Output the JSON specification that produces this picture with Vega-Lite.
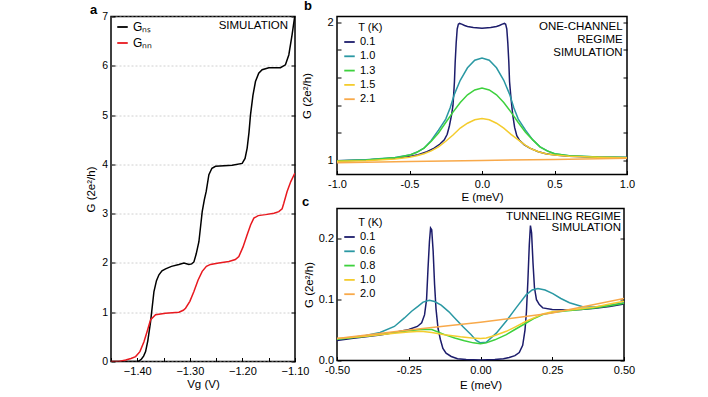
{
  "$schema": "https://vega.github.io/schema/vega-lite/v6.json",
  "background": "white",
  "padding": {"left": 84, "top": -1.5, "right": 5, "bottom": 5},
  "config": {
    "font": "Liberation Sans",
    "view": {"stroke": "black", "strokeWidth": 1.5},
    "axis": {"domain": false, "tickColor": "black", "tickSize": -4, "tickWidth": 1, "labelColor": "black", "titleColor": "black", "labelFontSize": 11, "titleFontSize": 11.5, "titleFontWeight": "normal", "grid": false, "labelOverlap": false, "labelFlush": false},
    "axisX": {"labelPadding": 8, "titlePadding": 1.5},
    "axisY": {"labelPadding": 7.5},
    "legend": {"symbolType": "stroke", "symbolStrokeWidth": 1.8, "symbolSize": 110, "labelFontSize": 11, "titleFontSize": 11, "titleFontWeight": "normal", "labelOffset": 4, "rowPadding": 2.3, "titlePadding": 3, "padding": 0, "labelColor": "black", "titleColor": "black"},
    "title": {"anchor": "start", "frame": "group", "fontSize": 13, "fontWeight": "bold", "color": "black", "baseline": "alphabetic"}
  },
  "datasets": {
    "ga": [
      {"V": -1.45, "G": 0, "s": "G\u2099\u209b"}, {"V": -1.40, "G": 0, "s": "G\u2099\u209b"}, {"V": -1.3968, "G": 0.01, "s": "G\u2099\u209b"}, {"V": -1.392, "G": 0.05, "s": "G\u2099\u209b"}, {"V": -1.388, "G": 0.11, "s": "G\u2099\u209b"}, {"V": -1.3842, "G": 0.2, "s": "G\u2099\u209b"}, {"V": -1.38, "G": 0.42, "s": "G\u2099\u209b"}, {"V": -1.3747, "G": 0.81, "s": "G\u2099\u209b"}, {"V": -1.3683, "G": 1.42, "s": "G\u2099\u209b"}, {"V": -1.3635, "G": 1.64, "s": "G\u2099\u209b"}, {"V": -1.3588, "G": 1.76, "s": "G\u2099\u209b"}, {"V": -1.353, "G": 1.84, "s": "G\u2099\u209b"}, {"V": -1.3462, "G": 1.88, "s": "G\u2099\u209b"}, {"V": -1.335, "G": 1.93, "s": "G\u2099\u209b"}, {"V": -1.3208, "G": 1.97, "s": "G\u2099\u209b"}, {"V": -1.3113, "G": 2.0, "s": "G\u2099\u209b"}, {"V": -1.3018, "G": 1.97, "s": "G\u2099\u209b"}, {"V": -1.2965, "G": 1.98, "s": "G\u2099\u209b"}, {"V": -1.2923, "G": 2.02, "s": "G\u2099\u209b"}, {"V": -1.288, "G": 2.18, "s": "G\u2099\u209b"}, {"V": -1.2828, "G": 2.43, "s": "G\u2099\u209b"}, {"V": -1.2795, "G": 2.75, "s": "G\u2099\u209b"}, {"V": -1.2765, "G": 3.04, "s": "G\u2099\u209b"}, {"V": -1.2725, "G": 3.28, "s": "G\u2099\u209b"}, {"V": -1.2689, "G": 3.45, "s": "G\u2099\u209b"}, {"V": -1.2638, "G": 3.79, "s": "G\u2099\u209b"}, {"V": -1.258, "G": 3.92, "s": "G\u2099\u209b"}, {"V": -1.2512, "G": 3.96, "s": "G\u2099\u209b"}, {"V": -1.235, "G": 3.97, "s": "G\u2099\u209b"}, {"V": -1.2195, "G": 3.98, "s": "G\u2099\u209b"}, {"V": -1.2005, "G": 4.02, "s": "G\u2099\u209b"}, {"V": -1.195, "G": 4.12, "s": "G\u2099\u209b"}, {"V": -1.191, "G": 4.33, "s": "G\u2099\u209b"}, {"V": -1.1875, "G": 4.65, "s": "G\u2099\u209b"}, {"V": -1.1847, "G": 5.0, "s": "G\u2099\u209b"}, {"V": -1.18, "G": 5.4, "s": "G\u2099\u209b"}, {"V": -1.1752, "G": 5.68, "s": "G\u2099\u209b"}, {"V": -1.169, "G": 5.85, "s": "G\u2099\u209b"}, {"V": -1.1625, "G": 5.92, "s": "G\u2099\u209b"}, {"V": -1.1498, "G": 5.96, "s": "G\u2099\u209b"}, {"V": -1.1277, "G": 5.96, "s": "G\u2099\u209b"}, {"V": -1.1182, "G": 6.02, "s": "G\u2099\u209b"}, {"V": -1.1118, "G": 6.22, "s": "G\u2099\u209b"}, {"V": -1.1055, "G": 6.63, "s": "G\u2099\u209b"}, {"V": -1.1011, "G": 6.96, "s": "G\u2099\u209b"}, {"V": -1.10, "G": 7.0, "s": "G\u2099\u209b"},
      {"V": -1.45, "G": 0, "s": "G\u2099\u2099"}, {"V": -1.435, "G": 0, "s": "G\u2099\u2099"}, {"V": -1.4222, "G": 0.03, "s": "G\u2099\u2099"}, {"V": -1.412, "G": 0.06, "s": "G\u2099\u2099"}, {"V": -1.4032, "G": 0.1, "s": "G\u2099\u2099"}, {"V": -1.395, "G": 0.2, "s": "G\u2099\u2099"}, {"V": -1.3873, "G": 0.4, "s": "G\u2099\u2099"}, {"V": -1.381, "G": 0.62, "s": "G\u2099\u2099"}, {"V": -1.3747, "G": 0.85, "s": "G\u2099\u2099"}, {"V": -1.3652, "G": 0.95, "s": "G\u2099\u2099"}, {"V": -1.3462, "G": 0.98, "s": "G\u2099\u2099"}, {"V": -1.3208, "G": 1.0, "s": "G\u2099\u2099"}, {"V": -1.3125, "G": 1.04, "s": "G\u2099\u2099"}, {"V": -1.3082, "G": 1.08, "s": "G\u2099\u2099"}, {"V": -1.30, "G": 1.22, "s": "G\u2099\u2099"}, {"V": -1.2923, "G": 1.42, "s": "G\u2099\u2099"}, {"V": -1.2845, "G": 1.65, "s": "G\u2099\u2099"}, {"V": -1.2765, "G": 1.83, "s": "G\u2099\u2099"}, {"V": -1.2685, "G": 1.93, "s": "G\u2099\u2099"}, {"V": -1.2607, "G": 1.97, "s": "G\u2099\u2099"}, {"V": -1.245, "G": 2.0, "s": "G\u2099\u2099"}, {"V": -1.2258, "G": 2.03, "s": "G\u2099\u2099"}, {"V": -1.2135, "G": 2.07, "s": "G\u2099\u2099"}, {"V": -1.2068, "G": 2.13, "s": "G\u2099\u2099"}, {"V": -1.199, "G": 2.32, "s": "G\u2099\u2099"}, {"V": -1.191, "G": 2.57, "s": "G\u2099\u2099"}, {"V": -1.1845, "G": 2.77, "s": "G\u2099\u2099"}, {"V": -1.1783, "G": 2.91, "s": "G\u2099\u2099"}, {"V": -1.17, "G": 2.96, "s": "G\u2099\u2099"}, {"V": -1.1562, "G": 2.98, "s": "G\u2099\u2099"}, {"V": -1.14, "G": 3.01, "s": "G\u2099\u2099"}, {"V": -1.1308, "G": 3.04, "s": "G\u2099\u2099"}, {"V": -1.1245, "G": 3.1, "s": "G\u2099\u2099"}, {"V": -1.1213, "G": 3.21, "s": "G\u2099\u2099"}, {"V": -1.115, "G": 3.45, "s": "G\u2099\u2099"}, {"V": -1.108, "G": 3.65, "s": "G\u2099\u2099"}, {"V": -1.1004, "G": 3.82, "s": "G\u2099\u2099"}
    ],
    "gb": [
      {"E": -1, "G": 1.0, "T": "0.1"}, {"E": -0.8, "G": 1.005, "T": "0.1"}, {"E": -0.6, "G": 1.018, "T": "0.1"}, {"E": -0.5, "G": 1.03, "T": "0.1"}, {"E": -0.44, "G": 1.043, "T": "0.1"}, {"E": -0.38, "G": 1.065, "T": "0.1"}, {"E": -0.33, "G": 1.09, "T": "0.1"}, {"E": -0.29, "G": 1.12, "T": "0.1"}, {"E": -0.26, "G": 1.15, "T": "0.1"}, {"E": -0.24, "G": 1.19, "T": "0.1"}, {"E": -0.225, "G": 1.25, "T": "0.1"}, {"E": -0.21, "G": 1.33, "T": "0.1"}, {"E": -0.2, "G": 1.40, "T": "0.1"}, {"E": -0.19, "G": 1.57, "T": "0.1"}, {"E": -0.185, "G": 1.71, "T": "0.1"}, {"E": -0.178, "G": 1.85, "T": "0.1"}, {"E": -0.171, "G": 1.95, "T": "0.1"}, {"E": -0.163, "G": 1.985, "T": "0.1"}, {"E": -0.155, "G": 1.99, "T": "0.1"}, {"E": -0.14, "G": 1.985, "T": "0.1"}, {"E": -0.12, "G": 1.975, "T": "0.1"}, {"E": -0.1, "G": 1.968, "T": "0.1"}, {"E": -0.06, "G": 1.96, "T": "0.1"}, {"E": 0, "G": 1.955, "T": "0.1"}, {"E": 0.06, "G": 1.96, "T": "0.1"}, {"E": 0.1, "G": 1.968, "T": "0.1"}, {"E": 0.12, "G": 1.975, "T": "0.1"}, {"E": 0.14, "G": 1.985, "T": "0.1"}, {"E": 0.155, "G": 1.99, "T": "0.1"}, {"E": 0.163, "G": 1.985, "T": "0.1"}, {"E": 0.171, "G": 1.95, "T": "0.1"}, {"E": 0.178, "G": 1.85, "T": "0.1"}, {"E": 0.185, "G": 1.71, "T": "0.1"}, {"E": 0.19, "G": 1.57, "T": "0.1"}, {"E": 0.2, "G": 1.45, "T": "0.1"}, {"E": 0.212, "G": 1.33, "T": "0.1"}, {"E": 0.225, "G": 1.24, "T": "0.1"}, {"E": 0.24, "G": 1.18, "T": "0.1"}, {"E": 0.26, "G": 1.145, "T": "0.1"}, {"E": 0.292, "G": 1.114, "T": "0.1"}, {"E": 0.33, "G": 1.09, "T": "0.1"}, {"E": 0.384, "G": 1.066, "T": "0.1"}, {"E": 0.44, "G": 1.05, "T": "0.1"}, {"E": 0.522, "G": 1.038, "T": "0.1"}, {"E": 0.6, "G": 1.032, "T": "0.1"}, {"E": 0.8, "G": 1.025, "T": "0.1"}, {"E": 1.0, "G": 1.022, "T": "0.1"},
      {"E": -1, "G": 1.0, "T": "1.0"}, {"E": -0.8, "G": 1.007, "T": "1.0"}, {"E": -0.6, "G": 1.022, "T": "1.0"}, {"E": -0.5, "G": 1.04, "T": "1.0"}, {"E": -0.45, "G": 1.06, "T": "1.0"}, {"E": -0.4, "G": 1.09, "T": "1.0"}, {"E": -0.35, "G": 1.145, "T": "1.0"}, {"E": -0.3, "G": 1.22, "T": "1.0"}, {"E": -0.25, "G": 1.30, "T": "1.0"}, {"E": -0.22, "G": 1.38, "T": "1.0"}, {"E": -0.19, "G": 1.48, "T": "1.0"}, {"E": -0.15, "G": 1.58, "T": "1.0"}, {"E": -0.1, "G": 1.67, "T": "1.0"}, {"E": -0.05, "G": 1.725, "T": "1.0"}, {"E": 0, "G": 1.74, "T": "1.0"}, {"E": 0.05, "G": 1.725, "T": "1.0"}, {"E": 0.1, "G": 1.67, "T": "1.0"}, {"E": 0.15, "G": 1.58, "T": "1.0"}, {"E": 0.19, "G": 1.48, "T": "1.0"}, {"E": 0.22, "G": 1.38, "T": "1.0"}, {"E": 0.25, "G": 1.30, "T": "1.0"}, {"E": 0.3, "G": 1.22, "T": "1.0"}, {"E": 0.35, "G": 1.15, "T": "1.0"}, {"E": 0.4, "G": 1.10, "T": "1.0"}, {"E": 0.45, "G": 1.07, "T": "1.0"}, {"E": 0.5, "G": 1.05, "T": "1.0"}, {"E": 0.6, "G": 1.035, "T": "1.0"}, {"E": 0.8, "G": 1.026, "T": "1.0"}, {"E": 1, "G": 1.022, "T": "1.0"},
      {"E": -1, "G": 0.998, "T": "1.3"}, {"E": -0.8, "G": 1.005, "T": "1.3"}, {"E": -0.6, "G": 1.02, "T": "1.3"}, {"E": -0.5, "G": 1.04, "T": "1.3"}, {"E": -0.45, "G": 1.06, "T": "1.3"}, {"E": -0.4, "G": 1.09, "T": "1.3"}, {"E": -0.35, "G": 1.14, "T": "1.3"}, {"E": -0.3, "G": 1.20, "T": "1.3"}, {"E": -0.25, "G": 1.275, "T": "1.3"}, {"E": -0.2, "G": 1.35, "T": "1.3"}, {"E": -0.15, "G": 1.42, "T": "1.3"}, {"E": -0.1, "G": 1.475, "T": "1.3"}, {"E": -0.05, "G": 1.51, "T": "1.3"}, {"E": 0, "G": 1.524, "T": "1.3"}, {"E": 0.05, "G": 1.51, "T": "1.3"}, {"E": 0.1, "G": 1.475, "T": "1.3"}, {"E": 0.15, "G": 1.42, "T": "1.3"}, {"E": 0.2, "G": 1.35, "T": "1.3"}, {"E": 0.25, "G": 1.275, "T": "1.3"}, {"E": 0.3, "G": 1.205, "T": "1.3"}, {"E": 0.35, "G": 1.15, "T": "1.3"}, {"E": 0.4, "G": 1.10, "T": "1.3"}, {"E": 0.45, "G": 1.07, "T": "1.3"}, {"E": 0.5, "G": 1.05, "T": "1.3"}, {"E": 0.6, "G": 1.035, "T": "1.3"}, {"E": 0.8, "G": 1.026, "T": "1.3"}, {"E": 1, "G": 1.022, "T": "1.3"},
      {"E": -1, "G": 0.995, "T": "1.5"}, {"E": -0.8, "G": 1.0, "T": "1.5"}, {"E": -0.6, "G": 1.012, "T": "1.5"}, {"E": -0.5, "G": 1.025, "T": "1.5"}, {"E": -0.45, "G": 1.035, "T": "1.5"}, {"E": -0.4, "G": 1.05, "T": "1.5"}, {"E": -0.35, "G": 1.07, "T": "1.5"}, {"E": -0.3, "G": 1.10, "T": "1.5"}, {"E": -0.25, "G": 1.14, "T": "1.5"}, {"E": -0.2, "G": 1.185, "T": "1.5"}, {"E": -0.15, "G": 1.235, "T": "1.5"}, {"E": -0.1, "G": 1.27, "T": "1.5"}, {"E": -0.05, "G": 1.295, "T": "1.5"}, {"E": 0, "G": 1.304, "T": "1.5"}, {"E": 0.05, "G": 1.295, "T": "1.5"}, {"E": 0.1, "G": 1.27, "T": "1.5"}, {"E": 0.15, "G": 1.235, "T": "1.5"}, {"E": 0.2, "G": 1.19, "T": "1.5"}, {"E": 0.25, "G": 1.15, "T": "1.5"}, {"E": 0.3, "G": 1.11, "T": "1.5"}, {"E": 0.35, "G": 1.08, "T": "1.5"}, {"E": 0.4, "G": 1.06, "T": "1.5"}, {"E": 0.45, "G": 1.048, "T": "1.5"}, {"E": 0.5, "G": 1.04, "T": "1.5"}, {"E": 0.6, "G": 1.032, "T": "1.5"}, {"E": 0.8, "G": 1.025, "T": "1.5"}, {"E": 1, "G": 1.021, "T": "1.5"},
      {"E": -1, "G": 0.985, "T": "2.1"}, {"E": -0.5, "G": 0.993, "T": "2.1"}, {"E": 0, "G": 1.001, "T": "2.1"}, {"E": 0.5, "G": 1.009, "T": "2.1"}, {"E": 1, "G": 1.018, "T": "2.1"}
    ],
    "gc": [
      {"E": -0.5, "G": 0.033, "T": "0.1"}, {"E": -0.45, "G": 0.036, "T": "0.1"}, {"E": -0.4, "G": 0.039, "T": "0.1"}, {"E": -0.35, "G": 0.042, "T": "0.1"}, {"E": -0.3, "G": 0.046, "T": "0.1"}, {"E": -0.25, "G": 0.051, "T": "0.1"}, {"E": -0.22, "G": 0.056, "T": "0.1"}, {"E": -0.205, "G": 0.062, "T": "0.1"}, {"E": -0.195, "G": 0.075, "T": "0.1"}, {"E": -0.188, "G": 0.10, "T": "0.1"}, {"E": -0.183, "G": 0.15, "T": "0.1"}, {"E": -0.178, "G": 0.195, "T": "0.1"}, {"E": -0.174, "G": 0.218, "T": "0.1"}, {"E": -0.17, "G": 0.215, "T": "0.1"}, {"E": -0.165, "G": 0.18, "T": "0.1"}, {"E": -0.16, "G": 0.125, "T": "0.1"}, {"E": -0.155, "G": 0.085, "T": "0.1"}, {"E": -0.148, "G": 0.053, "T": "0.1"}, {"E": -0.14, "G": 0.035, "T": "0.1"}, {"E": -0.131, "G": 0.02, "T": "0.1"}, {"E": -0.12, "G": 0.012, "T": "0.1"}, {"E": -0.102, "G": 0.0066, "T": "0.1"}, {"E": -0.08, "G": 0.003, "T": "0.1"}, {"E": -0.05, "G": 0.0015, "T": "0.1"}, {"E": 0, "G": 0.001, "T": "0.1"}, {"E": 0.05, "G": 0.0015, "T": "0.1"}, {"E": 0.08, "G": 0.003, "T": "0.1"}, {"E": 0.1, "G": 0.005, "T": "0.1"}, {"E": 0.12, "G": 0.008, "T": "0.1"}, {"E": 0.135, "G": 0.013, "T": "0.1"}, {"E": 0.147, "G": 0.025, "T": "0.1"}, {"E": 0.155, "G": 0.05, "T": "0.1"}, {"E": 0.16, "G": 0.08, "T": "0.1"}, {"E": 0.165, "G": 0.13, "T": "0.1"}, {"E": 0.17, "G": 0.19, "T": "0.1"}, {"E": 0.174, "G": 0.222, "T": "0.1"}, {"E": 0.178, "G": 0.21, "T": "0.1"}, {"E": 0.183, "G": 0.16, "T": "0.1"}, {"E": 0.188, "G": 0.12, "T": "0.1"}, {"E": 0.195, "G": 0.10, "T": "0.1"}, {"E": 0.205, "G": 0.092, "T": "0.1"}, {"E": 0.217, "G": 0.0865, "T": "0.1"}, {"E": 0.25, "G": 0.084, "T": "0.1"}, {"E": 0.3, "G": 0.083, "T": "0.1"}, {"E": 0.35, "G": 0.084, "T": "0.1"}, {"E": 0.4, "G": 0.086, "T": "0.1"}, {"E": 0.45, "G": 0.089, "T": "0.1"}, {"E": 0.5, "G": 0.093, "T": "0.1"},
      {"E": -0.5, "G": 0.035, "T": "0.6"}, {"E": -0.45, "G": 0.038, "T": "0.6"}, {"E": -0.4, "G": 0.041, "T": "0.6"}, {"E": -0.35, "G": 0.046, "T": "0.6"}, {"E": -0.3, "G": 0.056, "T": "0.6"}, {"E": -0.265, "G": 0.07, "T": "0.6"}, {"E": -0.24, "G": 0.081, "T": "0.6"}, {"E": -0.218, "G": 0.089, "T": "0.6"}, {"E": -0.2, "G": 0.096, "T": "0.6"}, {"E": -0.178, "G": 0.099, "T": "0.6"}, {"E": -0.16, "G": 0.097, "T": "0.6"}, {"E": -0.137, "G": 0.091, "T": "0.6"}, {"E": -0.11, "G": 0.08, "T": "0.6"}, {"E": -0.09, "G": 0.07, "T": "0.6"}, {"E": -0.06, "G": 0.055, "T": "0.6"}, {"E": -0.0325, "G": 0.0425, "T": "0.6"}, {"E": -0.015, "G": 0.033, "T": "0.6"}, {"E": 0, "G": 0.029, "T": "0.6"}, {"E": 0.02, "G": 0.03, "T": "0.6"}, {"E": 0.055, "G": 0.045, "T": "0.6"}, {"E": 0.09, "G": 0.065, "T": "0.6"}, {"E": 0.124, "G": 0.0865, "T": "0.6"}, {"E": 0.159, "G": 0.108, "T": "0.6"}, {"E": 0.18, "G": 0.116, "T": "0.6"}, {"E": 0.2, "G": 0.1185, "T": "0.6"}, {"E": 0.225, "G": 0.116, "T": "0.6"}, {"E": 0.252, "G": 0.11, "T": "0.6"}, {"E": 0.28, "G": 0.102, "T": "0.6"}, {"E": 0.31, "G": 0.095, "T": "0.6"}, {"E": 0.356, "G": 0.0885, "T": "0.6"}, {"E": 0.4, "G": 0.088, "T": "0.6"}, {"E": 0.45, "G": 0.091, "T": "0.6"}, {"E": 0.5, "G": 0.095, "T": "0.6"},
      {"E": -0.5, "G": 0.035, "T": "0.8"}, {"E": -0.4, "G": 0.04, "T": "0.8"}, {"E": -0.3, "G": 0.046, "T": "0.8"}, {"E": -0.25, "G": 0.049, "T": "0.8"}, {"E": -0.2, "G": 0.0515, "T": "0.8"}, {"E": -0.17, "G": 0.051, "T": "0.8"}, {"E": -0.125, "G": 0.0425, "T": "0.8"}, {"E": -0.09, "G": 0.037, "T": "0.8"}, {"E": -0.056, "G": 0.0326, "T": "0.8"}, {"E": -0.025, "G": 0.029, "T": "0.8"}, {"E": 0, "G": 0.0276, "T": "0.8"}, {"E": 0.02, "G": 0.029, "T": "0.8"}, {"E": 0.05, "G": 0.034, "T": "0.8"}, {"E": 0.09, "G": 0.0425, "T": "0.8"}, {"E": 0.12, "G": 0.051, "T": "0.8"}, {"E": 0.159, "G": 0.0617, "T": "0.8"}, {"E": 0.19, "G": 0.07, "T": "0.8"}, {"E": 0.217, "G": 0.0755, "T": "0.8"}, {"E": 0.25, "G": 0.079, "T": "0.8"}, {"E": 0.287, "G": 0.081, "T": "0.8"}, {"E": 0.33, "G": 0.083, "T": "0.8"}, {"E": 0.391, "G": 0.086, "T": "0.8"}, {"E": 0.45, "G": 0.09, "T": "0.8"}, {"E": 0.5, "G": 0.094, "T": "0.8"},
      {"E": -0.5, "G": 0.036, "T": "1.0"}, {"E": -0.4, "G": 0.04, "T": "1.0"}, {"E": -0.3, "G": 0.045, "T": "1.0"}, {"E": -0.25, "G": 0.047, "T": "1.0"}, {"E": -0.207, "G": 0.048, "T": "1.0"}, {"E": -0.17, "G": 0.046, "T": "1.0"}, {"E": -0.125, "G": 0.0425, "T": "1.0"}, {"E": -0.07, "G": 0.039, "T": "1.0"}, {"E": -0.03, "G": 0.037, "T": "1.0"}, {"E": 0, "G": 0.036, "T": "1.0"}, {"E": 0.02, "G": 0.037, "T": "1.0"}, {"E": 0.05, "G": 0.041, "T": "1.0"}, {"E": 0.09, "G": 0.048, "T": "1.0"}, {"E": 0.12, "G": 0.055, "T": "1.0"}, {"E": 0.159, "G": 0.0645, "T": "1.0"}, {"E": 0.19, "G": 0.071, "T": "1.0"}, {"E": 0.217, "G": 0.0765, "T": "1.0"}, {"E": 0.25, "G": 0.08, "T": "1.0"}, {"E": 0.287, "G": 0.082, "T": "1.0"}, {"E": 0.35, "G": 0.085, "T": "1.0"}, {"E": 0.4, "G": 0.088, "T": "1.0"}, {"E": 0.45, "G": 0.093, "T": "1.0"}, {"E": 0.5, "G": 0.0975, "T": "1.0"},
      {"E": -0.5, "G": 0.036, "T": "2.0"}, {"E": -0.25, "G": 0.05, "T": "2.0"}, {"E": 0, "G": 0.063, "T": "2.0"}, {"E": 0.25, "G": 0.078, "T": "2.0"}, {"E": 0.5, "G": 0.102, "T": "2.0"}
    ]
  },
  "bounds": "flush",
  "spacing": 42,
  "resolve": {"scale": {"color": "independent"}, "legend": {"color": "independent"}},
  "hconcat": [
    {
      "width": 184,
      "height": 345,
      "title": {"text": "a", "dx": -21, "offset": 3, "dy": 8},
      "layer": [
        {
          "data": {"name": "ga"},
          "mark": {"type": "line", "strokeWidth": 1.5, "clip": true},
          "encoding": {
            "x": {"field": "V", "type": "quantitative", "scale": {"domain": [-1.45, -1.10], "nice": false, "zero": false},
              "axis": {"title": "Vg (V)", "values": [-1.4, -1.3, -1.2, -1.1], "format": ".2f"}},
            "y": {"field": "G", "type": "quantitative", "scale": {"domain": [0, 7], "nice": false},
              "axis": {"title": "G (2e\u00b2/h)", "values": [0, 1, 2, 3, 4, 5, 6, 7], "labelFontSize": 10.5, "titlePadding": 5, "grid": true, "gridDash": [2, 2], "gridColor": "#c4c4c4", "gridWidth": 0.8}},
            "color": {"field": "s", "type": "nominal", "scale": {"domain": ["G\u2099\u209b", "G\u2099\u2099"], "range": ["#000000", "#e8191f"]},
              "legend": {"title": null, "orient": "none", "legendX": 5, "legendY": 4, "labelFontSize": 12, "rowPadding": 3}}
          }
        },
        {
          "data": {"values": [{}]},
          "mark": {"type": "text", "align": "right", "baseline": "middle", "fontSize": 11.5},
          "encoding": {
            "x": {"datum": -1.1131, "type": "quantitative", "axis": {"orient": "bottom", "labels": false, "title": null, "values": [-1.45, -1.35, -1.25, -1.15]}},
            "y": {"datum": 6.815, "type": "quantitative", "axis": {"orient": "right", "labels": false, "title": null, "values": [0, 1, 2, 3, 4, 5, 6, 7], "grid": false}},
            "text": {"value": "SIMULATION"}
          }
        }
      ],
      "resolve": {"axis": {"x": "independent", "y": "independent"}}
    },
    {
      "bounds": "flush",
      "spacing": 34,
      "resolve": {"scale": {"color": "independent"}, "legend": {"color": "independent"}},
      "vconcat": [
        {
          "width": 290,
          "height": 158,
          "title": {"text": "b", "dx": -33, "offset": 1, "dy": -2.5},
          "layer": [
            {
              "data": {"name": "gb"},
              "mark": {"type": "line", "strokeWidth": 1.5, "clip": true},
              "encoding": {
                "x": {"field": "E", "type": "quantitative", "scale": {"domain": [-1, 1], "nice": false},
                  "axis": {"title": "E (meV)", "values": [-1, -0.5, 0, 0.5, 1], "labelPadding": 8, "labelExpr": "replace(format(datum.value, '.1f'), '\u2212', '-')"}},
                "y": {"field": "G", "type": "quantitative", "scale": {"domain": [0.9, 2.04], "nice": false, "zero": false},
                  "axis": {"title": "G (2e\u00b2/h)", "values": [1, 1.2, 1.4, 1.6, 1.8, 2], "labelPadding": 8, "titlePadding": 14, "labelExpr": "datum.value == 1 ? '1' : datum.value == 2 ? '2' : ''"}},
                "color": {"field": "T", "type": "nominal", "scale": {"domain": ["0.1", "1.0", "1.3", "1.5", "2.1"], "range": ["#1c1c6b", "#2a98a3", "#3dd13d", "#f4cc2e", "#f8a94a"]},
                  "legend": {"title": "\u200b\u00a0\u00a0\u00a0\u00a0\u00a0T (K)", "orient": "none", "legendX": 6, "legendY": 5}}
              }
            },
            {
              "data": {"values": [{}]},
              "mark": {"type": "text", "align": "right", "baseline": "top", "fontSize": 11.5, "lineHeight": 13.3},
              "encoding": {
                "x": {"datum": 0.97, "type": "quantitative"},
                "y": {"datum": 2.011, "type": "quantitative", "axis": {"orient": "right", "labels": false, "title": null, "values": [1, 1.2, 1.4, 1.6, 1.8, 2]}},
                "text": {"value": ["ONE-CHANNEL", "REGIME", "SIMULATION"]}
              }
            }
          ],
          "resolve": {"axis": {"y": "independent"}}
        },
        {
          "width": 287,
          "height": 152,
          "title": {"text": "c", "dx": -35, "offset": 0},
          "layer": [
            {
              "data": {"name": "gc"},
              "mark": {"type": "line", "strokeWidth": 1.5, "clip": true},
              "encoding": {
                "x": {"field": "E", "type": "quantitative", "scale": {"domain": [-0.5, 0.5], "nice": false},
                  "axis": {"title": "E (meV)", "values": [-0.5, -0.25, 0, 0.25, 0.5], "labelPadding": 8, "titlePadding": 4, "labelExpr": "replace(format(datum.value, '.2f'), '\u2212', '-')"}},
                "y": {"field": "G", "type": "quantitative", "scale": {"domain": [0, 0.25], "nice": false},
                  "axis": {"title": "G (2e\u00b2/h)", "values": [0, 0.1, 0.2], "format": ".1f", "titlePadding": 4}},
                "color": {"field": "T", "type": "nominal", "scale": {"domain": ["0.1", "0.6", "0.8", "1.0", "2.0"], "range": ["#1c1c6b", "#2a98a3", "#3dd13d", "#f4cc2e", "#f8a94a"]},
                  "legend": {"title": "\u200b\u00a0\u00a0\u00a0\u00a0\u00a0T (K)", "orient": "none", "legendX": 6, "legendY": 8}}
              }
            },
            {
              "data": {"values": [{}]},
              "mark": {"type": "text", "align": "right", "baseline": "top", "fontSize": 11.5, "lineHeight": 11.7},
              "encoding": {
                "x": {"datum": 0.4896, "type": "quantitative"},
                "y": {"datum": 0.2463, "type": "quantitative", "axis": {"orient": "right", "labels": false, "title": null, "values": [0, 0.1, 0.2]}},
                "text": {"value": ["TUNNELING REGIME", "SIMULATION"]}
              }
            }
          ],
          "resolve": {"axis": {"y": "independent"}}
        }
      ]
    }
  ]
}
